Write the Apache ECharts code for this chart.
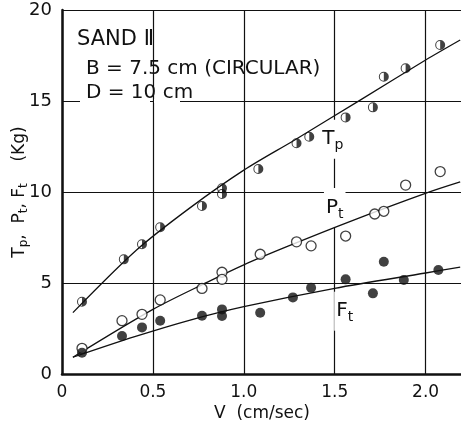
<!DOCTYPE html>
<html>
<head>
<meta charset="utf-8">
<script src="https://cdn.jsdelivr.net/npm/echarts@6/dist/echarts.min.js"></script>
<style>
  html, body { margin: 0; padding: 0; background: #fff; }
  #chart { width: 461px; height: 434px; }
</style>
</head>
<body>
<div id="chart"></div>
<script>
// measured points, V (cm/sec) against force (Kg)
var vTp = [0.11, 0.34, 0.44, 0.54, 0.77, 0.88, 0.88, 1.08, 1.29, 1.36, 1.56, 1.71, 1.77, 1.89, 2.08];
var tp  = [3.97, 6.30, 7.13, 8.06, 9.23, 10.2, 9.89, 11.26, 12.68, 13.04, 14.10, 14.65, 16.33, 16.80, 18.08];

var vPt = [0.11, 0.33, 0.44, 0.54, 0.77, 0.88, 0.88, 1.09, 1.29, 1.37, 1.56, 1.72, 1.77, 1.89, 2.08];
var pt  = [1.41, 2.93, 3.28, 4.07, 4.70, 5.59, 5.20, 6.58, 7.26, 7.04, 7.58, 8.79, 8.94, 10.38, 11.12];

var vFt = [0.11, 0.33, 0.44, 0.54, 0.77, 0.88, 0.88, 1.09, 1.27, 1.37, 1.56, 1.71, 1.77, 1.88, 2.07];
var ft  = [1.17, 2.09, 2.56, 2.93, 3.20, 3.55, 3.19, 3.37, 4.21, 4.74, 5.20, 4.43, 6.17, 5.16, 5.71];

// hand drawn fit curves
var tpFitV = [0.06, 0.41, 0.70, 1.0, 1.28, 1.64, 2.0, 2.19];
var tpFit  = [3.37, 6.81, 9.1, 11.2, 12.86, 15.05, 17.25, 18.35];
var ptFitV = [0.06, 0.5, 0.8, 1.0, 1.25, 1.59, 2.01, 2.19];
var ptFit  = [0.92, 3.55, 5.05, 6.0, 7.05, 8.4, 9.96, 10.55];
var ftFitV = [0.06, 0.4, 0.7, 1.0, 1.5, 2.0, 2.19];
var ftFit  = [0.92, 2.05, 2.95, 3.7, 4.71, 5.55, 5.87];

var xTicks = [0, 0.5, 1.0, 1.5, 2.0];
var yTicks = [0, 5, 10, 15, 20];

var FONT = 'DejaVu Sans';

function pairs(xs, ys) {
  return xs.map(function (x, i) { return [x, ys[i]]; });
}

// open ring with right half filled
var halfCircle = 'path://M10,0A10,10 0 1,1 -10,0A10,10 0 1,1 10,0Z' +
  'M8,0A8,8 0 1,0 -8,0A8,8 0 1,0 8,0Z' +
  'M0,-8A8,8 0 0,1 0,8Z';

function fitLine(name, xs, ys, lbl, at) {
  return {
    name: name,
    type: 'line',
    data: pairs(xs, ys),
    smooth: 0.3,
    showSymbol: false,
    silent: true,
    lineStyle: { color: '#111', width: 1.3 },
    z: 3,
    markPoint: {
      symbol: 'circle',
      symbolSize: 1,
      itemStyle: { color: 'rgba(0,0,0,0)' },
      z: 2,
      label: {
        show: true,
        position: 'inside',
        formatter: lbl,
        color: '#111',
        fontFamily: FONT,
        fontSize: 20,
        backgroundColor: '#fff',
        padding: [6, 2],
        rich: {
          s: { fontSize: 14, fontFamily: FONT, color: '#111', padding: [13, 0, 0, 0] }
        }
      },
      data: [{ coord: at }]
    }
  };
}

var chart = echarts.init(document.getElementById('chart'));
chart.setOption({
  animation: false,
  backgroundColor: '#fff',
  grid: { left: 62, right: -1, top: 10, bottom: 60, outerBoundsMode: 'none' },
  xAxis: {
    type: 'value',
    min: 0,
    max: 2.2,
    interval: 0.5,
    name: 'V  (cm/sec)',
    nameLocation: 'middle',
    nameGap: 31,
    nameMoveOverlap: false,
    nameTextStyle: { fontFamily: FONT, fontSize: 17, color: '#111' },
    axisLine: { show: true, lineStyle: { color: '#111', width: 2.5 } },
    axisTick: { show: false },
    axisLabel: {
      margin: 10,
      fontFamily: FONT,
      fontSize: 17,
      color: '#111',
      formatter: function (v) {
        if (xTicks.indexOf(v) < 0) return '';
        return v === 0 ? '0' : v.toFixed(1);
      }
    },
    splitLine: { show: true, lineStyle: { color: '#111', width: 1.2 } }
  },
  yAxis: {
    type: 'value',
    min: 0,
    max: 20,
    interval: 5,
    name: 'T{s|p},  P{s|t}, F{s|t}    (Kg)',
    nameLocation: 'middle',
    nameGap: 32,
    nameMoveOverlap: false,
    nameTextStyle: {
      fontFamily: FONT, fontSize: 17, color: '#111',
      rich: { s: { fontFamily: FONT, fontSize: 12, color: '#111', padding: [9, 0, 0, 0] } }
    },
    axisLine: { show: true, lineStyle: { color: '#111', width: 2.5 } },
    axisTick: { show: false },
    axisLabel: {
      margin: 10,
      fontFamily: FONT,
      fontSize: 18,
      color: '#111',
      formatter: function (v) { return yTicks.indexOf(v) < 0 ? '' : String(v); }
    },
    splitLine: { show: true, lineStyle: { color: '#111', width: 1.2 } }
  },
  graphic: [
    { type: 'rect', z: 10, shape: { x: 80, y: 99, width: 70, height: 4 }, style: { fill: '#fff' } },
    { type: 'rect', z: 10, shape: { x: 154, y: 99, width: 26, height: 4 }, style: { fill: '#fff' } },
    { type: 'text', z: 11, x: 77, y: 40, style: { text: 'SAND Ⅱ', font: '21px "DejaVu Sans"', fill: '#111', verticalAlign: 'middle' } },
    { type: 'text', z: 11, x: 86, y: 69, style: { text: 'B = 7.5 cm (CIRCULAR)', font: '20px "DejaVu Sans"', fill: '#111', verticalAlign: 'middle' } },
    { type: 'text', z: 11, x: 86, y: 93, style: { text: 'D = 10 cm', font: '20px "DejaVu Sans"', fill: '#111', verticalAlign: 'middle' } }
  ],
  series: [
    fitLine('Tp fit', tpFitV, tpFit, 'T{s|p}', [1.49, 12.9]),
    fitLine('Pt fit', ptFitV, ptFit, 'P{s|t}', [1.50, 9.15]),
    fitLine('Ft fit', ftFitV, ftFit, 'F{s|t}', [1.555, 3.45]),
    {
      name: 'Tp',
      type: 'scatter',
      data: pairs(vTp, tp),
      symbol: halfCircle,
      symbolSize: 10,
      itemStyle: { color: '#111' },
      z: 5
    },
    {
      name: 'Pt',
      type: 'scatter',
      data: pairs(vPt, pt),
      symbol: 'circle',
      symbolSize: 10,
      itemStyle: { color: '#fff', borderColor: '#111', borderWidth: 1.3 },
      z: 5
    },
    {
      name: 'Ft',
      type: 'scatter',
      data: pairs(vFt, ft),
      symbol: 'circle',
      symbolSize: 10,
      itemStyle: { color: '#111' },
      z: 5
    }
  ]
});
</script>
</body>
</html>
